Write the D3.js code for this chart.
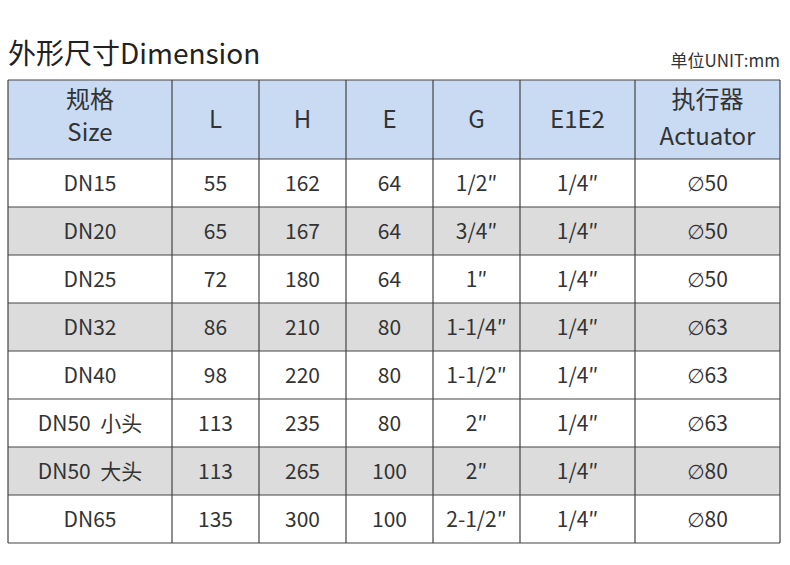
<!DOCTYPE html>
<html><head><meta charset="utf-8">
<script src="https://cdn.jsdelivr.net/npm/d3@7"></script>
<style>body{margin:0;background:#fff}</style>
</head><body><svg id="c" width="790" height="565"></svg>
<script>
var headers = [["规格","Size"],["L"],["H"],["E"],["G"],["E1E2"],["执行器","Actuator"]];
var sizes = ["DN15","DN20","DN25","DN32","DN40","DN50  小头","DN50  大头","DN65"];
var L = [55,65,72,86,98,113,113,135];
var H = [162,167,180,210,220,235,265,300];
var E = [64,64,64,80,80,80,100,100];
var G = ["1/2″","3/4″","1″","1-1/4″","1-1/2″","2″","2″","2-1/2″"];
var E1E2 = ["1/4″","1/4″","1/4″","1/4″","1/4″","1/4″","1/4″","1/4″"];
var actuator = ["50","50","50","63","63","63","80","80"];
var shaded = [1,3,6];

var colEdges = [8,172,259,346,433,520,635,780];
var font = "'Noto Sans CJK SC','Noto Sans',sans-serif";
var svg = d3.select("#c");

svg.append("text").attr("x",8).attr("y",64).attr("font-family",font)
  .attr("font-size",28).attr("fill","#222").text("外形尺寸Dimension");
svg.append("text").attr("x",780).attr("y",67).attr("text-anchor","end").attr("font-family",font)
  .attr("font-size",17).attr("fill","#333").text("单位UNIT:mm");

var rows = sizes.map((s,i) => [s,L[i],H[i],E[i],G[i],E1E2[i],actuator[i]]);
var y = d3.scaleBand().domain(d3.range(rows.length)).range([159,543]);
var tableTop = 80;

svg.append("rect").attr("x",8).attr("y",tableTop).attr("width",772).attr("height",159-tableTop).attr("fill","#c8dbf3");
svg.selectAll("rect.row").data(rows).enter().append("rect").attr("class","row")
  .attr("x",8).attr("y",(d,i)=>y(i)).attr("width",772).attr("height",y.bandwidth())
  .attr("fill",(d,i)=>shaded.includes(i)?"#dcdcdc":"#fff");

headers.forEach((h,j) => {
  var cx = (colEdges[j]+colEdges[j+1])/2;
  var t = svg.append("text").attr("x",cx).attr("text-anchor","middle").attr("font-family",font)
    .attr("font-size",24).attr("fill","#333");
  if (h.length === 1) t.attr("y",128).text(h[0]);
  else h.forEach((s,k) => t.append("tspan").attr("x",cx).attr("y",k?(j===6?145:141):108).text(s));
});

rows.forEach((r,i) => {
  r.forEach((v,j) => {
    var t = svg.append("text").attr("x",(colEdges[j]+colEdges[j+1])/2).attr("y",y(i)+y.bandwidth()/2+8)
      .attr("text-anchor","middle").attr("font-family",font).attr("font-size",21)
      .attr("fill","#333").attr("xml:space","preserve");
    if (j === 6) {
      t.append("tspan").attr("font-family","'DejaVu Sans'").attr("font-size",20).text("∅");
      t.append("tspan").text(v);
    } else t.text(v);
  });
});

var lineY = [tableTop,159].concat(d3.range(rows.length).map(i=>y(i)+y.bandwidth()));
svg.selectAll("line.h").data(lineY).enter().append("line")
  .attr("x1",8).attr("x2",780).attr("y1",d=>d).attr("y2",d=>d).attr("stroke","#444").attr("stroke-width",1.2);
svg.selectAll("line.v").data(colEdges).enter().append("line")
  .attr("x1",d=>d).attr("x2",d=>d).attr("y1",tableTop).attr("y2",543).attr("stroke","#444").attr("stroke-width",1.2);
</script></body></html>
